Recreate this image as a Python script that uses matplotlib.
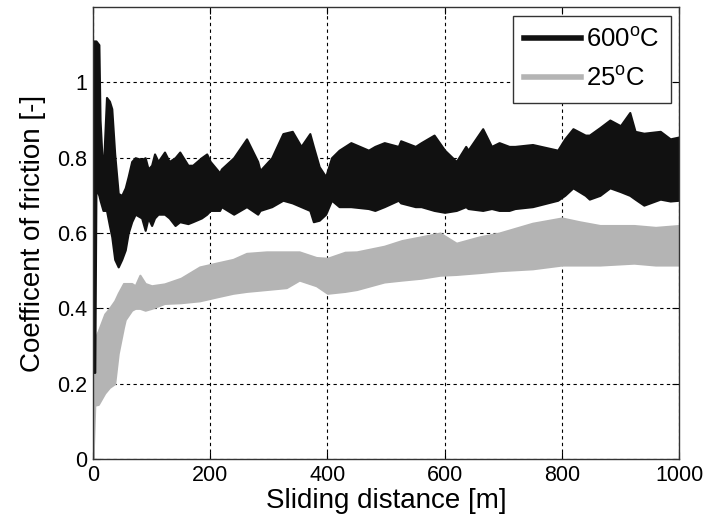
import numpy as np
import matplotlib
matplotlib.use('Agg')
import matplotlib.pyplot as plt

plt.rcParams['font.family'] = ['Liberation Sans', 'DejaVu Sans']
plt.rcParams['mathtext.fontset'] = 'custom'
plt.rcParams['mathtext.rm'] = 'Liberation Sans'

# 600 C run: band edges (distance in m, COF)
hot_dist = [0, 3, 5, 10, 12, 17, 23, 28, 32, 37, 43, 49, 55, 60, 66, 72, 83, 89, 94, 100,
            105, 111, 122, 130, 140, 148, 162, 170, 185, 194, 200, 216, 219, 240, 262, 281,
            285, 305, 324, 340, 355, 370, 376, 386, 397, 407, 420, 440, 470, 481, 497, 521,
            525, 550, 560, 582, 600, 620, 636, 640, 665, 680, 693, 710, 720, 750, 793, 805,
            819, 840, 847, 865, 882, 900, 916, 925, 940, 968, 985, 1000]
hot_upper = [1.11, 1.11, 1.11, 1.10, 0.90, 0.75, 0.96, 0.95, 0.93, 0.81, 0.705, 0.70, 0.72, 0.75,
             0.79, 0.80, 0.795, 0.80, 0.77, 0.78, 0.81, 0.79, 0.815, 0.79, 0.80, 0.815, 0.78,
             0.78, 0.80, 0.81, 0.79, 0.76, 0.77, 0.80, 0.85, 0.79, 0.766, 0.80, 0.864, 0.87,
             0.83, 0.864, 0.83, 0.776, 0.75, 0.80, 0.82, 0.84, 0.82, 0.83, 0.84, 0.83, 0.845,
             0.83, 0.84, 0.86, 0.82, 0.79, 0.83, 0.82, 0.877, 0.83, 0.84, 0.83, 0.83, 0.835,
             0.82, 0.85, 0.877, 0.86, 0.86, 0.88, 0.90, 0.885, 0.92, 0.87, 0.865, 0.87, 0.85,
             0.855]
hot_lower = [0.23, 0.23, 0.72, 0.70, 0.687, 0.66, 0.66, 0.62, 0.59, 0.53, 0.51, 0.53, 0.555,
             0.60, 0.63, 0.65, 0.64, 0.607, 0.64, 0.62, 0.64, 0.65, 0.65, 0.64, 0.62, 0.63,
             0.625, 0.63, 0.64, 0.65, 0.66, 0.66, 0.67, 0.65, 0.67, 0.65, 0.66, 0.67, 0.687,
             0.68, 0.67, 0.66, 0.63, 0.634, 0.65, 0.687, 0.67, 0.67, 0.665, 0.66, 0.67, 0.687,
             0.68, 0.67, 0.67, 0.66, 0.655, 0.66, 0.67, 0.665, 0.66, 0.665, 0.66, 0.66, 0.665,
             0.67, 0.687, 0.70, 0.72, 0.70, 0.69, 0.70, 0.72, 0.71, 0.70, 0.69, 0.674, 0.69,
             0.685, 0.687]

# 25 C run
cold_dist = [0, 3, 9, 20, 28, 37, 43, 52, 55, 66, 72, 80, 89, 100, 122, 150, 182, 210, 239,
             262, 296, 330, 352, 381, 400, 430, 450, 497, 527, 560, 592, 620, 660, 693, 750,
             800, 830, 865, 923, 960, 1000]
cold_upper = [0.23, 0.32, 0.34, 0.385, 0.40, 0.42, 0.44, 0.466, 0.466, 0.466, 0.46, 0.488,
              0.466, 0.46, 0.465, 0.48, 0.51, 0.52, 0.53, 0.546, 0.55, 0.55, 0.55, 0.535,
              0.533, 0.549, 0.55, 0.565, 0.58, 0.59, 0.60, 0.573, 0.59, 0.60, 0.626, 0.64,
              0.63, 0.62, 0.62, 0.615, 0.62]
cold_lower = [0.0, 0.143, 0.145, 0.175, 0.19, 0.20, 0.28, 0.35, 0.37, 0.395, 0.40, 0.40,
              0.395, 0.40, 0.413, 0.415, 0.42, 0.43, 0.44, 0.445, 0.45, 0.455, 0.475, 0.46,
              0.44, 0.445, 0.45, 0.47, 0.475, 0.48, 0.488, 0.49, 0.495, 0.50, 0.505, 0.515,
              0.515, 0.515, 0.52, 0.515, 0.515]

x_ticks = [0, 200, 400, 600, 800, 1000]
y_ticks = [0, 0.2, 0.4, 0.6, 0.8, 1.0]
y_tick_labels = ['0', '0.2', '0.4', '0.6', '0.8', '1']

BLACK = '#111111'
GRAY = '#b4b4b4'

fig = plt.figure(figsize=(7.09, 5.29), dpi=100)
ax = fig.add_axes([0.1312, 0.1323, 0.8265, 0.8544])

ax.grid(True, color='black', linestyle=(0, (3, 3)), linewidth=0.8)
ax.set_axisbelow(True)

ax.fill_between(cold_dist, cold_lower, cold_upper, color=GRAY, lw=1.5, ec=GRAY)
ax.fill_between(hot_dist, hot_lower, hot_upper, color=BLACK, lw=1.5, ec=BLACK)

ax.plot([], [], color=BLACK, lw=4, label='600$^{\\rm o}$C')
ax.plot([], [], color=GRAY, lw=4, label='25$^{\\rm o}$C')

ax.set_xlim(0, 1000)
ax.set_ylim(0, 1.2)
ax.set_xticks(x_ticks)
ax.set_yticks(y_ticks)
ax.set_yticklabels(y_tick_labels)
ax.tick_params(direction='in', length=5, labelsize=15.5, top=True, right=True, pad=4)
for s in ax.spines.values():
    s.set_color('#333333')
    s.set_linewidth(1.0)

ax.set_xlabel('Sliding distance [m]', fontsize=20, labelpad=2)
ax.set_ylabel('Coefficent of friction [-]', fontsize=20, labelpad=8)

leg = ax.legend(loc='upper right', bbox_to_anchor=(671 / 709, 1 - 16 / 529),
                bbox_transform=fig.transFigure, borderaxespad=0, fontsize=18.5,
                handlelength=2.2, handletextpad=0.2, fancybox=False, framealpha=1,
                edgecolor='#333333', labelspacing=0.55, borderpad=0.45)
leg.get_frame().set_linewidth(1.0)

fig.savefig('out.png', dpi=100)
